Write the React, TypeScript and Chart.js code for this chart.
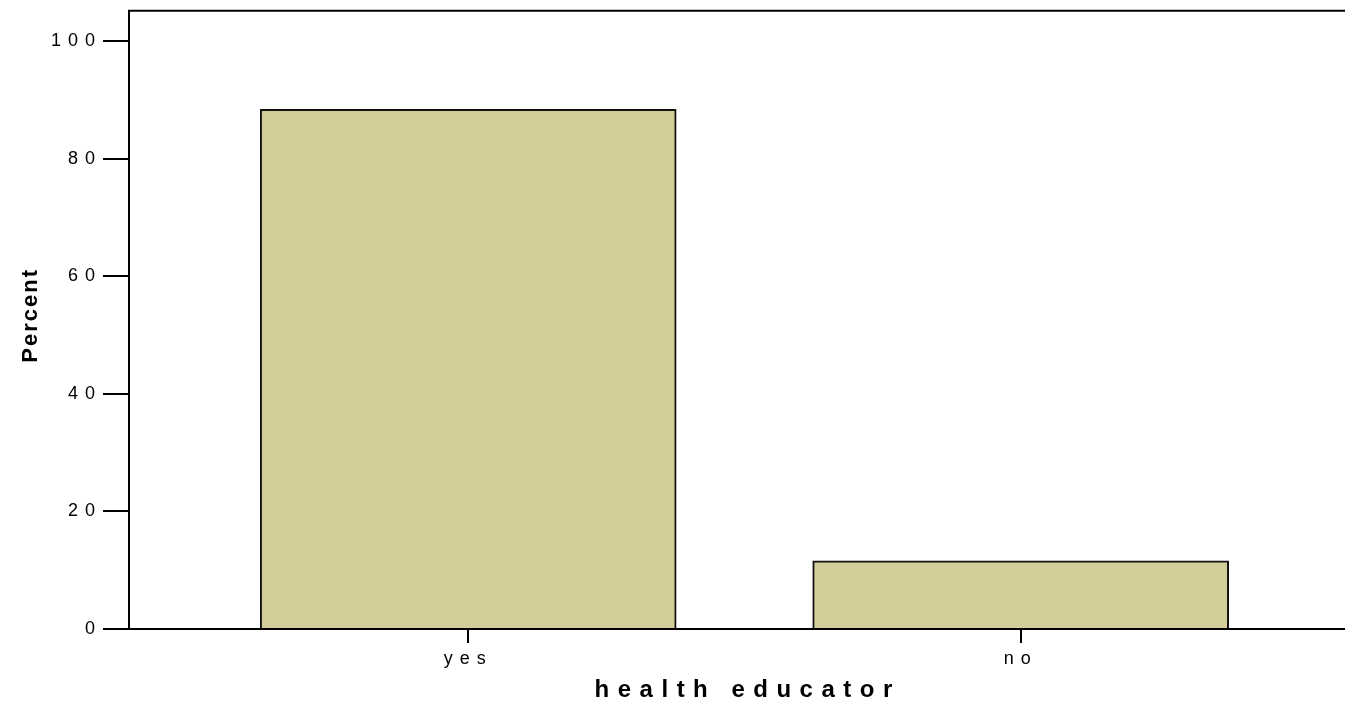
import { useEffect, useRef } from 'react';
import { Chart, registerables } from 'chart.js';

Chart.register(...registerables);

const CATEGORIES = ['yes', 'no'];
const PERCENT = [88.4, 11.6];
const Y_TICKS = [0, 20, 40, 60, 80, 100];
const X_TITLE = 'health educator';
const Y_TITLE = 'Percent';

const FONT = 'Arial, "Liberation Sans", sans-serif';
const TICK_SPACING = 7;
const X_TITLE_SPACING = 8.5;
const Y_TITLE_SPACING = 2;

export default function App() {
  const ref = useRef<HTMLCanvasElement>(null);

  useEffect(() => {
    const canvas = ref.current;
    if (!canvas) return;

    const setSpacing = (c: any) => {
      c.ctx.letterSpacing = TICK_SPACING + 'px';
    };

    const spssPlugin = {
      id: 'spssDecor',
      beforeLayout: (c: any) => setSpacing(c),
      beforeDraw: (c: any) => setSpacing(c),
      afterDraw: (c: any) => {
        const ctx = c.ctx as any;
        const a = c.chartArea;
        ctx.save();
        // top frame line
        ctx.strokeStyle = '#000';
        ctx.lineWidth = 2;
        ctx.beginPath();
        ctx.moveTo(a.left - 1, a.top - 1);
        ctx.lineTo(a.right, a.top - 1);
        ctx.stroke();

        ctx.fillStyle = '#000';
        ctx.textAlign = 'left';
        ctx.textBaseline = 'alphabetic';

        // x axis title
        ctx.letterSpacing = X_TITLE_SPACING + 'px';
        ctx.font = `bold 24px ${FONT}`;
        const xs = c.scales.x;
        const cx = (xs.getPixelForValue(0) + xs.getPixelForValue(CATEGORIES.length - 1)) / 2;
        const w = ctx.measureText(X_TITLE).width - X_TITLE_SPACING;
        ctx.fillText(X_TITLE, cx - w / 2 - 1, 697);

        // y axis title
        ctx.letterSpacing = Y_TITLE_SPACING + 'px';
        ctx.font = `bold 22px ${FONT}`;
        const w2 = ctx.measureText(Y_TITLE).width - Y_TITLE_SPACING;
        ctx.translate(36.5, (a.top + a.bottom) / 2 - 4);
        ctx.rotate(-Math.PI / 2);
        ctx.fillText(Y_TITLE, -w2 / 2, 0);
        ctx.restore();
        setSpacing(c);
      },
    };

    const chart = new Chart(canvas, {
      type: 'bar',
      data: {
        datasets: [
          {
            data: PERCENT.map((y, i) => ({ x: i, y })),
            backgroundColor: '#D3CE99',
            borderColor: '#111111',
            borderWidth: 2,
            barThickness: 416,
          } as any,
        ],
      },
      options: {
        animation: false,
        responsive: false,
        devicePixelRatio: 1,
        layout: { padding: { top: 9, right: 0, left: 0, bottom: 0 } },
        plugins: {
          legend: { display: false },
          tooltip: { enabled: false },
        },
        scales: {
          x: {
            type: 'linear',
            min: -0.614,
            max: 1.587,
            offset: false,
            afterBuildTicks: (s: any) => {
              s.ticks = CATEGORIES.map((_, i) => ({ value: i }));
            },
            afterFit: (s: any) => {
              s.height = 74;
            },
            grid: {
              offset: false,
              drawOnChartArea: false,
              drawTicks: true,
              tickLength: 14,
              color: '#000',
              lineWidth: 2,
            },
            border: { display: true, color: '#000', width: 2 },
            ticks: {
              callback: (v: any) => CATEGORIES[v as number] ?? '',
              font: { family: FONT, size: 18 },
              color: '#000',
              padding: 5,
              maxRotation: 0,
              autoSkip: false,
            },
          },
          y: {
            type: 'linear',
            min: 0,
            max: 105,
            afterBuildTicks: (s: any) => {
              s.ticks = Y_TICKS.map((v) => ({ value: v }));
            },
            afterFit: (s: any) => {
              s.width = 129;
            },
            grid: {
              drawOnChartArea: false,
              drawTicks: true,
              tickLength: 26,
              color: '#000',
              lineWidth: 2,
            },
            border: { display: true, color: '#000', width: 2 },
            ticks: {
              font: { family: FONT, size: 18 },
              color: '#000',
              padding: 1,
              autoSkip: false,
            },
          },
        },
      },
      plugins: [spssPlugin],
    } as any);

    return () => chart.destroy();
  }, []);

  return (
    <div
      style={{
        position: 'fixed',
        left: 0,
        top: 0,
        width: 1345,
        height: 703,
        background: '#fff',
      }}
    >
      <canvas ref={ref} width={1345} height={703} />
    </div>
  );
}
